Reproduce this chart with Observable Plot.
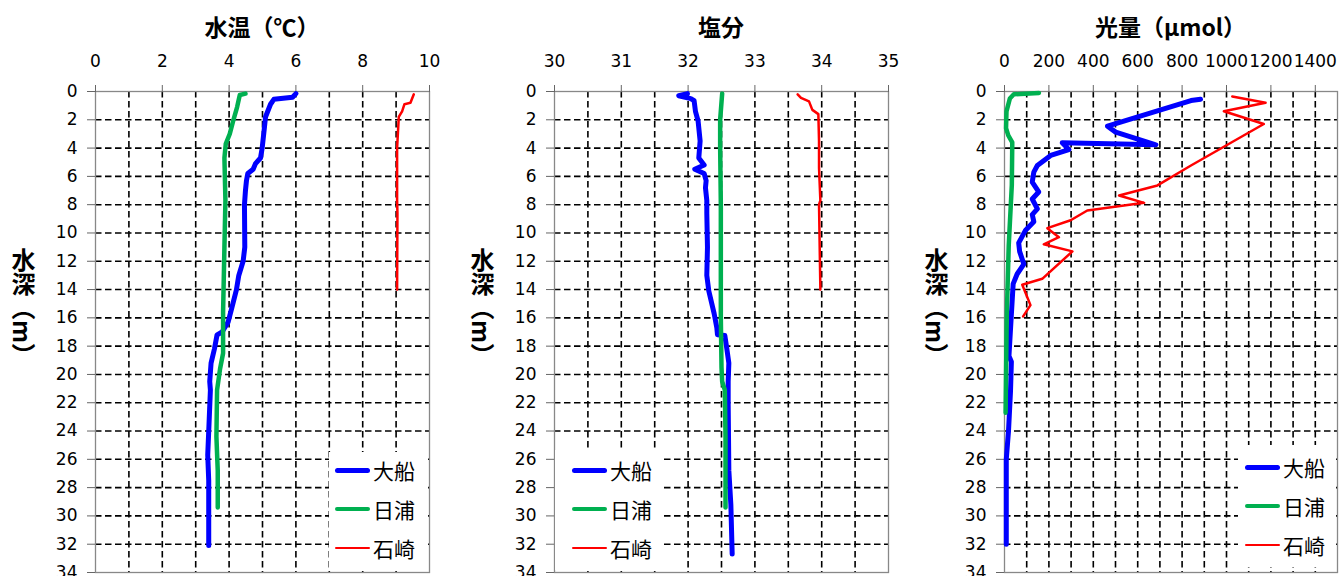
<!DOCTYPE html>
<html><head><meta charset="utf-8">
<script src="https://cdn.jsdelivr.net/npm/d3@7"></script>
<script src="https://cdn.jsdelivr.net/npm/@observablehq/plot@0.6"></script>
<style>
html,body{margin:0;padding:0;background:#fff;width:1341px;height:576px;overflow:hidden;}
#root{position:relative;width:1341px;height:576px;}
.panel{position:absolute;top:0;}
.panel svg{overflow:visible;}
.title{position:absolute;font-family:"Noto Sans CJK JP";font-weight:bold;font-size:23px;transform:translateX(-50%);white-space:nowrap;top:11px;line-height:30px;color:#000;}
.ylab{position:absolute;writing-mode:vertical-rl;font-family:"Noto Sans CJK JP";font-weight:bold;font-size:24px;top:248px;transform:translateX(-50%);line-height:1;color:#000;}
.legend{position:absolute;background:#fff;}
.lline{position:absolute;border-radius:3px;}
.ltext{position:absolute;font-family:"Noto Sans CJK JP";font-size:21px;line-height:24px;color:#000;white-space:nowrap;}
</style>
</head><body><div id="root"></div>
<script>
// ---- stations ----
const stations = ["大船", "日浦", "石崎"];
const stationColors = ["#0000FF", "#00B050", "#FF0000"];
const stationWidths = [5, 4.5, 2.5];

// ---- axis ticks / grid ----
const depthTicks = [0,2,4,6,8,10,12,14,16,18,20,22,24,26,28,30,32,34];
const depthGrid = [2,4,6,8,10,12,14,16,18,20,22,24,26,28,30,32];
const tempTicks = [0,2,4,6,8,10];
const tempGrid = [1,2,3,4,5,6,7,8,9];
const salTicks = [30,31,32,33,34,35];
const salGrid = [30.5,31,31.5,32,32.5,33,33.5,34,34.5];
const lightTicks = [0,200,400,600,800,1000,1200,1400];
const lightGrid = [100,200,300,400,500,600,700,800,900,1000,1100,1200,1300,1400];

// ---- 水温 ----
const ofunaTempDepth = [0.15,0.4,0.55,0.9,1.8,2.5,4.0,4.7,5.1,5.5,5.8,6.3,7.0,8.0,11.0,12.0,13.0,14.0,15.4,16.3,17.0,17.2,18.2,19.2,20.5,21.1,24.0,25.7,27.5,32.1];
const ofunaTemp = [6.0,5.9,5.34,5.24,5.09,5.06,4.99,4.94,4.79,4.72,4.56,4.52,4.49,4.46,4.47,4.42,4.29,4.22,4.07,3.97,3.79,3.64,3.56,3.46,3.42,3.44,3.39,3.36,3.39,3.39];
const hiuraTempDepth = [0.15,0.25,1.1,2.1,3.0,3.7,4.7,7.7,11,15.6,18.5,19.6,21.1,24.4,26.8,29.4];
const hiuraTemp = [4.49,4.32,4.24,4.12,4.02,3.9,3.86,3.89,3.86,3.82,3.82,3.73,3.64,3.62,3.66,3.66];
const ishizakiTempDepth = [0.2,0.8,0.9,1.4,1.8,4.0,7.7,8.6,14.0];
const ishizakiTemp = [9.53,9.43,9.25,9.18,9.08,9.03,9.03,9.04,9.03];

// ---- 塩分 ----
const ofunaSalDepth = [0.15,0.3,0.5,0.65,1.4,2.1,3.5,4.7,5.2,5.5,5.8,6.3,6.8,7.7,8.6,11.0,13.0,14.1,15.7,16.7,17.2,17.25,18.2,19.2,20.5,22.1,26.8,29.2,32.7];
const ofunaSal = [31.99,31.86,32.04,32.09,32.11,32.15,32.18,32.16,32.24,32.1,32.24,32.27,32.26,32.28,32.28,32.29,32.28,32.31,32.39,32.43,32.44,32.55,32.58,32.61,32.6,32.6,32.61,32.64,32.66];
const hiuraSalDepth = [0.15,2,4,8,12,16,19.5,20.5,21.1,24.4,29.4];
const hiuraSal = [32.51,32.48,32.48,32.49,32.49,32.49,32.5,32.51,32.55,32.56,32.56];
const ishizakiSalDepth = [0.2,0.45,0.7,1.3,1.6,3.5,5.4,7.7,8,14];
const ishizakiSal = [33.64,33.69,33.81,33.86,33.95,33.96,33.96,33.98,33.96,33.98];

// ---- 光量 ----
const ofunaLightDepth = [0.55,0.64,2.45,2.87,3.77,3.63,4.1,4.52,5.23,5.7,6.4,7.1,7.6,8.3,8.7,9.2,9.8,10.7,11.3,12.2,12.9,13.6,16.0,18.7,19.1,21.2,24,26,29,32];
const ofunaLight = [883,840,464,501,682,260,290,208,148,132,125,154,125,148,125,132,95,64,68,87,57,39,30,20,31,27,18,8,8,8];
const hiuraLightDepth = [0.1,0.2,0.5,1.4,2.6,3.1,3.6,6.6,10.9,16,22.7];
const hiuraLight = [155,42,24,9,7,17,35,33,19,10,5];
const ishizakiLightDepth = [0.35,0.8,1.4,2.3,5.23,6.64,7.35,7.87,8.41,9.1,9.66,10.3,10.8,11.3,13.24,13.66,15.1,15.9];
const ishizakiLight = [1026,1176,988,1168,840,689,516,629,373,298,193,245,177,306,170,80,117,84];

function rows(depths, values){ return depths.map((d,i)=>({depth:d, value:values[i]})); }

const panels = [
  {title:"水温（℃）", left:0, width:447, ml:95, mr:18, domain:[0,10], ticks:tempTicks, grid:tempGrid,
   series:[rows(ofunaTempDepth,ofunaTemp), rows(hiuraTempDepth,hiuraTemp), rows(ishizakiTempDepth,ishizakiTemp)],
   ylabX:23, legend:{left:329, top:452, width:99, height:118, lineX:6, textX:44, ys:[18,57,96]}},
  {title:"塩分", left:450, width:447, ml:104, mr:9, domain:[30,35], ticks:salTicks, grid:salGrid,
   series:[rows(ofunaSalDepth,ofunaSal), rows(hiuraSalDepth,hiuraSal), rows(ishizakiSalDepth,ishizakiSal)],
   ylabX:482, legend:{left:555, top:450, width:107, height:120, lineX:17, textX:55, ys:[20,59,98]}},
  {title:"光量（μmol）", left:900, width:441, ml:104, mr:4, domain:[0,1500], ticks:lightTicks, grid:lightGrid,
   series:[rows(ofunaLightDepth,ofunaLight), rows(hiuraLightDepth,hiuraLight), rows(ishizakiLightDepth,ishizakiLight)],
   ylabX:936, legend:{left:1238, top:445, width:98, height:122, lineX:7, textX:45, ys:[22,61,100]}}
];

const root = document.getElementById("root");
const dash = {stroke:"#000", strokeDasharray:"6.5,3.5", strokeWidth:1.6};
const axisFont = '"DejaVu Sans", "Noto Sans CJK JP", sans-serif';

panels.forEach(p => {
  const chart = Plot.plot({
    width: p.width, height: 576,
    marginTop: 91, marginBottom: 4, marginLeft: p.ml, marginRight: p.mr,
    style: {fontFamily: axisFont, fontSize: "17px", background: "transparent", color: "#000"},
    x: {domain: p.domain},
    y: {domain: [0,34], reverse: true},
    marks: [
      Plot.ruleX(p.grid, dash),
      Plot.ruleY(depthGrid, dash),
      Plot.frame({stroke:"#888", strokeWidth:1.3}),
      Plot.axisX({anchor:"top", ticks:p.ticks, tickSize:7, tickPadding:18, label:null, stroke:"#666", fill:"#000", fontSize:17, tickFormat: d=>String(d)}),
      Plot.axisY({anchor:"left", ticks:depthTicks, tickSize:8, tickPadding:10, label:null, stroke:"#666", fill:"#000", fontSize:17, tickFormat: d=>String(d)}),
      ...p.series.map((s,i)=>Plot.line(s, {x:"value", y:"depth", stroke:stationColors[i], strokeWidth:stationWidths[i], strokeLinejoin:"round", strokeLinecap:"round"}))
    ]
  });
  const div = document.createElement("div");
  div.className = "panel";
  div.style.left = p.left + "px";
  div.appendChild(chart);
  root.appendChild(div);

  const t = document.createElement("div");
  t.className = "title";
  t.textContent = p.title;
  t.style.left = (p.left + p.ml + (p.width - p.ml - p.mr)/2) + "px";
  root.appendChild(t);

  const yl = document.createElement("div");
  yl.className = "ylab";
  yl.textContent = "水深（m）";
  yl.style.left = p.ylabX + "px";
  root.appendChild(yl);

  const lg = document.createElement("div");
  lg.className = "legend";
  Object.assign(lg.style, {left:p.legend.left+"px", top:p.legend.top+"px", width:p.legend.width+"px", height:p.legend.height+"px"});
  stations.forEach((name,i)=>{
    const ln = document.createElement("div");
    ln.className = "lline";
    const w = stationWidths[i];
    Object.assign(ln.style, {left:p.legend.lineX+"px", top:(p.legend.ys[i]-w/2)+"px", width:"35px", height:w+"px", background:stationColors[i]});
    lg.appendChild(ln);
    const tx = document.createElement("div");
    tx.className = "ltext";
    tx.textContent = name;
    Object.assign(tx.style, {left:p.legend.textX+"px", top:(p.legend.ys[i]-12)+"px"});
    lg.appendChild(tx);
  });
  root.appendChild(lg);
});
</script>
</body></html>
